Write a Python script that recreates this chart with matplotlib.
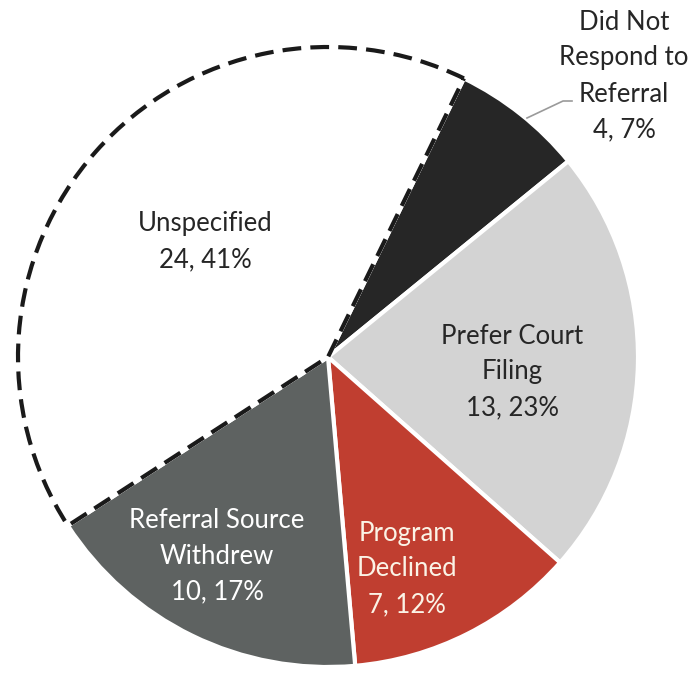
import matplotlib
matplotlib.use("Agg")
import matplotlib.pyplot as plt
from matplotlib.patches import Wedge

# Declined referral reasons
categories = ["Did Not\nRespond to\nReferral", "Prefer Court\nFiling", "Program\nDeclined",
              "Referral Source\nWithdrew", "Unspecified"]
counts = [4, 13, 7, 10, 24]
percents = [7, 23, 12, 17, 41]

colors = ["#262626", "#d3d3d3", "#c03e30", "#5e6261", "#ffffff"]
text_colors = ["#262626", "#262626", "#fbf3e6", "#ffffff", "#262626"]

W, H = 693, 673
fig = plt.figure(figsize=(W / 100, H / 100), dpi=100)
ax = fig.add_axes([0, 0, 1, 1])

cx, cy, r = 328, H - 357, 310
wedges, _ = ax.pie(counts, colors=colors, startangle=64, counterclock=False,
                   center=(cx, cy), radius=r, frame=True,
                   wedgeprops=dict(edgecolor="white", linewidth=3))
ax.set_xlim(0, W)
ax.set_ylim(0, H)
ax.set_aspect("equal")
ax.axis("off")

# dashed outline on the unspecified slice, drawn above the neighbouring edges
u = wedges[-1]
outline = Wedge(u.center, u.r, u.theta1, u.theta2, facecolor="none",
                edgecolor="#1a1a1a", linewidth=3, linestyle=(0, (4.5, 2.2)), zorder=5)
ax.add_patch(outline)

labels = [f"{c}\n{n}, {p}%" for c, n, p in zip(categories, counts, percents)]
label_pos = [(624, H - 76), (512, H - 372), (407, H - 569), (217, H - 556), (205, H - 242)]
for lab, (x, y), tc in zip(labels, label_pos, text_colors):
    ax.text(x, y, lab, ha="center", va="center", fontsize=18.5, color=tc,
            family="Lato", linespacing=1.55, zorder=6)

# leader line for the small slice
ax.plot([527, 563, 572], [H - 118, H - 101, H - 101], color="#9a9a9a", lw=1.2, zorder=6)

fig.savefig("out.png", dpi=100)
